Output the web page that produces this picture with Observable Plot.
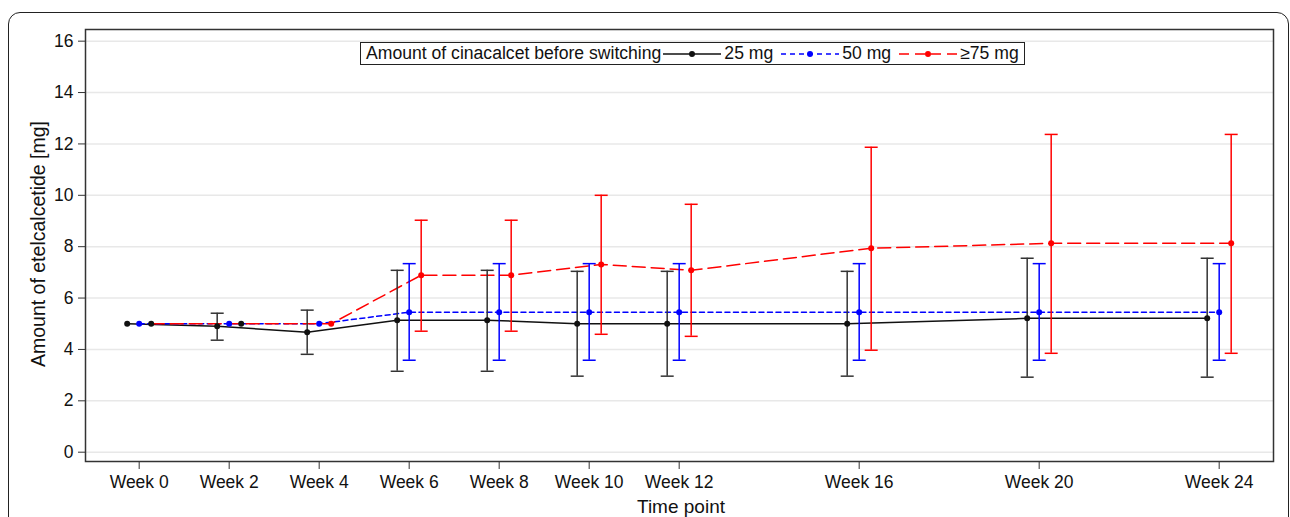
<!DOCTYPE html>
<html><head><meta charset="utf-8">
<script src="https://cdn.jsdelivr.net/npm/d3@7"></script>
<script src="https://cdn.jsdelivr.net/npm/@observablehq/plot@0.6"></script>
<style>
body{margin:0;background:#fff;font-family:"Liberation Sans",Arial,sans-serif;}
#wrap{position:relative;width:1290px;height:517px;overflow:hidden;background:#fff;}
#outer{position:absolute;left:8px;top:12px;width:1281px;height:700px;box-sizing:border-box;border:1.5px solid #222;border-radius:12px;}
#chart{position:absolute;left:0;top:0;}
#legend{position:absolute;left:360px;top:42px;height:23px;box-sizing:border-box;border:1.2px solid #222;background:#fff;display:flex;align-items:center;padding:0 5px 0 5px;font-size:17.6px;color:#111;white-space:nowrap;}
#legend svg{display:block;margin:0 3px 0 2px;}
#ylab{position:absolute;left:38px;top:244px;transform:translate(-50%,-50%) rotate(-90deg);font-size:19.5px;color:#111;white-space:nowrap;}
#xlab{position:absolute;left:681px;top:507px;transform:translate(-50%,-50%);font-size:19px;color:#111;white-space:nowrap;}
</style></head><body>
<div id="wrap"><div id="outer"></div><div id="chart"></div>
<div id="legend"></div>
<div id="ylab">Amount of etelcalcetide [mg]</div>
<div id="xlab">Time point</div>
</div>
<script>
const weeks = [0, 2, 4, 6, 8, 10, 12, 16, 20, 24];
const weekLabels = ["Week 0","Week 2","Week 4","Week 6","Week 8","Week 10","Week 12","Week 16","Week 20","Week 24"];
const yTicks = [0, 2, 4, 6, 8, 10, 12, 14, 16];

const mean25  = [5.0, 4.9, 4.67, 5.14, 5.14, 5.0, 5.0, 5.0, 5.21, 5.21];
const lower25 = [null, 4.36, 3.81, 3.15, 3.15, 2.96, 2.96, 2.96, 2.92, 2.92];
const upper25 = [null, 5.41, 5.53, 7.08, 7.08, 7.04, 7.04, 7.04, 7.55, 7.55];

const mean50  = [5.0, 5.0, 5.0, 5.45, 5.45, 5.45, 5.45, 5.45, 5.45, 5.45];
const lower50 = [null, null, null, 3.58, 3.58, 3.58, 3.58, 3.58, 3.58, 3.58];
const upper50 = [null, null, null, 7.34, 7.34, 7.34, 7.34, 7.34, 7.34, 7.34];

const mean75  = [5.0, 5.0, 5.0, 6.89, 6.89, 7.31, 7.08, 7.94, 8.13, 8.13];
const lower75 = [null, null, null, 4.71, 4.71, 4.59, 4.51, 3.97, 3.85, 3.85];
const upper75 = [null, null, null, 9.03, 9.03, 10.0, 9.65, 11.87, 12.37, 12.37];

const seriesNames = ["25 mg", "50 mg", "\u226575 mg"];
const legendTitle = "Amount of cinacalcet before switching";

const styles = [
  {color: "#111", bar: "#333", dash: null, dx: -12},
  {color: "#0000ff", bar: "#0000ff", dash: "5,3.5", dx: 0},
  {color: "#ff0000", bar: "#ff0000", dash: "13,6", dx: 12}
];
const means = [mean25, mean50, mean75];
const lowers = [lower25, lower50, lower75];
const uppers = [upper25, upper50, upper75];

const rows = means.map((m, s) => weeks.map((w, i) => ({week: w, mean: m[i], lo: lowers[s][i], hi: uppers[s][i], series: seriesNames[s]})));

const cap = {draw(ctx, size) { const w = Math.sqrt(size / Math.PI); ctx.moveTo(-w, 0); ctx.lineTo(w, 0); }};

const marks = [
  Plot.gridY(yTicks, {stroke: "#e8e8e8", strokeOpacity: 1, strokeWidth: 1.5}),
  Plot.axisY(yTicks, {tickSize: 7, tickPadding: 5, fontSize: 17.5, label: null, stroke: "#333"}),
  Plot.axisX(weeks, {tickSize: 8, tickPadding: 6, fontSize: 17.5, label: null, stroke: "#333", tickFormat: (d, i) => weekLabels[i]}),
];
rows.forEach((data, s) => {
  const st = styles[s];
  marks.push(Plot.line(data, {x: "week", y: "mean", dx: st.dx, stroke: st.color, strokeWidth: 1.5, strokeDasharray: st.dash}));
});
rows.forEach((data, s) => {
  const st = styles[s];
  const bars = data.filter(d => d.lo != null);
  marks.push(Plot.ruleX(bars, {x: "week", y1: "lo", y2: "hi", dx: st.dx, stroke: st.bar, strokeWidth: 1.5}));
  marks.push(Plot.dot(bars, {x: "week", y: "lo", dx: st.dx, symbol: cap, r: 6.5, stroke: st.bar, strokeWidth: 1.5, fill: "none"}));
  marks.push(Plot.dot(bars, {x: "week", y: "hi", dx: st.dx, symbol: cap, r: 6.5, stroke: st.bar, strokeWidth: 1.5, fill: "none"}));
});
rows.forEach((data, s) => {
  const st = styles[s];
  marks.push(Plot.dot(data, {x: "week", y: "mean", dx: st.dx, r: 3, fill: s === 2 ? (d => d.week < 4 ? "#111" : st.color) : st.color, stroke: "none"}));
});
marks.push(Plot.frame({stroke: "#333", strokeWidth: 1.5}));

const chart = Plot.plot({
  width: 1290, height: 517,
  marginLeft: 85, marginRight: 17, marginTop: 29, marginBottom: 56,
  x: {domain: [-1.193, 25.207]},
  y: {domain: [-0.362, 16.454]},
  style: {fontFamily: "'Liberation Sans', Arial, sans-serif", fontSize: "17.5px", color: "#111", background: "transparent"},
  marks
});
document.getElementById("chart").appendChild(chart);

// legend
const lg = document.getElementById("legend");
const t = document.createElement("span"); t.textContent = legendTitle; lg.appendChild(t);
seriesNames.forEach((name, s) => {
  const st = styles[s];
  const ns = "http://www.w3.org/2000/svg";
  const svg = document.createElementNS(ns, "svg");
  svg.setAttribute("width", 58); svg.setAttribute("height", 12);
  const ln = document.createElementNS(ns, "line");
  ln.setAttribute("x1", 0); ln.setAttribute("x2", 58); ln.setAttribute("y1", 6); ln.setAttribute("y2", 6);
  ln.setAttribute("stroke", st.color); ln.setAttribute("stroke-width", 1.5);
  if (st.dash) ln.setAttribute("stroke-dasharray", s === 1 ? "5,4" : "10,6");
  svg.appendChild(ln);
  const c = document.createElementNS(ns, "circle");
  c.setAttribute("cx", 29); c.setAttribute("cy", 6); c.setAttribute("r", 3); c.setAttribute("fill", st.color);
  svg.appendChild(c);
  lg.appendChild(svg);
  const sp = document.createElement("span"); sp.textContent = name; sp.style.marginRight = s < 2 ? "6px" : "0";
  lg.appendChild(sp);
});
</script>
</body></html>
